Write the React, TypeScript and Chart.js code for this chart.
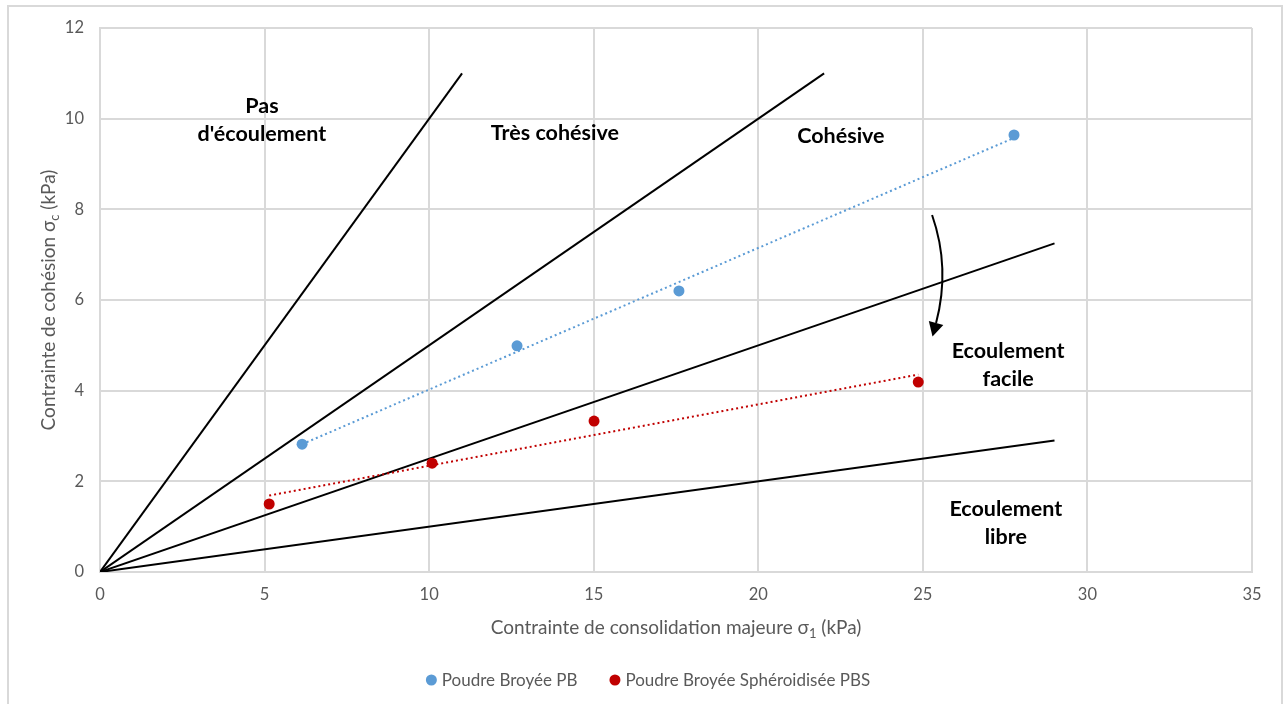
import React, { useEffect, useRef } from "react";
import { Chart, registerables } from "chart.js";

Chart.register(...registerables);

// ---------- data ----------
const pbConsolidation = [6.14, 12.67, 17.59, 27.77];
const pbCohesion = [2.82, 4.99, 6.2, 9.64];
const pbsConsolidation = [5.14, 10.09, 15.01, 24.86];
const pbsCohesion = [1.5, 2.4, 3.33, 4.19];

// flow-function boundary lines (from origin to these end points)
const boundaryEndX = [11, 22, 29, 29];
const boundaryEndY = [11, 11, 7.25, 2.9];

const xTickValues = [0, 5, 10, 15, 20, 25, 30, 35];
const yTickValues = [0, 2, 4, 6, 8, 10, 12];

const seriesNames = ["Poudre Broyée PB", "Poudre Broyée Sphéroidisée PBS"];
const zoneLabels = [
  ["Pas", "d'écoulement"],
  ["Très cohésive"],
  ["Cohésive"],
  ["Ecoulement", "facile"],
  ["Ecoulement", "libre"],
];
// anchor (data coords) of the first line of each zone label
const zoneAnchorX = [4.92, 13.82, 22.51, 27.59, 27.52];
const zoneAnchorY = [10.28, 9.68, 9.62, 4.875, 1.39];

// ---------- styles ----------
const FONT = "Lato, 'Liberation Sans', sans-serif";
const GRID = "#d9d9d9";
const TEXT = "#595959";
const BLUE = "#5b9bd5";
const RED = "#c00000";

function trend(xs: number[], ys: number[]) {
  const n = xs.length;
  const mx = xs.reduce((a, b) => a + b, 0) / n;
  const my = ys.reduce((a, b) => a + b, 0) / n;
  let sxy = 0;
  let sxx = 0;
  for (let i = 0; i < n; i++) {
    sxy += (xs[i] - mx) * (ys[i] - my);
    sxx += (xs[i] - mx) * (xs[i] - mx);
  }
  const slope = sxy / sxx;
  const b = my - slope * mx;
  const x0 = Math.min(...xs);
  const x1 = Math.max(...xs);
  return [
    { x: x0, y: b + slope * x0 },
    { x: x1, y: b + slope * x1 },
  ];
}

type Run = { t: string; sub?: boolean };

function drawRuns(ctx: CanvasRenderingContext2D, runs: Run[], cx: number, cy: number, size: number) {
  const subSize = Math.round(size * 0.68);
  let total = 0;
  for (const r of runs) {
    ctx.font = `${r.sub ? subSize : size}px ${FONT}`;
    total += ctx.measureText(r.t).width;
  }
  let x = cx - total / 2;
  const base = cy + size * 0.35;
  ctx.textAlign = "left";
  ctx.textBaseline = "alphabetic";
  for (const r of runs) {
    ctx.font = `${r.sub ? subSize : size}px ${FONT}`;
    ctx.fillText(r.t, x, r.sub ? base + size * 0.22 : base);
    x += ctx.measureText(r.t).width;
  }
}

const decorPlugin = {
  id: "decor",
  afterDatasetsDraw(chart: any) {
    const ctx: CanvasRenderingContext2D = chart.ctx;
    const xs = chart.scales.x;
    const ys = chart.scales.y;
    ctx.save();
    // zone labels
    ctx.fillStyle = "#000";
    ctx.font = `bold 21.5px ${FONT}`;
    ctx.textAlign = "center";
    ctx.textBaseline = "middle";
    zoneLabels.forEach((lines, i) => {
      const px = xs.getPixelForValue(zoneAnchorX[i]);
      const py = ys.getPixelForValue(zoneAnchorY[i]);
      lines.forEach((l, j) => ctx.fillText(l, px, py + j * 28));
    });
    // curved arrow
    const sx = xs.getPixelForValue(25.28);
    const sy = ys.getPixelForValue(7.875);
    const ex = sx + 4;
    const ey = sy + 108;
    const cx = sx + 18.5;
    const cy = sy + 53;
    ctx.strokeStyle = "#000";
    ctx.lineWidth = 2;
    ctx.beginPath();
    ctx.moveTo(sx, sy);
    ctx.quadraticCurveTo(cx, cy, ex, ey);
    ctx.stroke();
    let dx = ex - cx;
    let dy = ey - cy;
    const len = Math.hypot(dx, dy);
    dx /= len;
    dy /= len;
    const tipX = ex + dx * 14;
    const tipY = ey + dy * 14;
    ctx.fillStyle = "#000";
    ctx.beginPath();
    ctx.moveTo(tipX, tipY);
    ctx.lineTo(ex - dy * 7.5, ey + dx * 7.5);
    ctx.lineTo(ex + dy * 7.5, ey - dx * 7.5);
    ctx.closePath();
    ctx.fill();
    ctx.restore();
  },
  afterDraw(chart: any) {
    const ctx: CanvasRenderingContext2D = chart.ctx;
    const a = chart.chartArea;
    ctx.save();
    ctx.fillStyle = TEXT;
    // x title
    drawRuns(
      ctx,
      [{ t: "Contrainte de consolidation majeure σ" }, { t: "1", sub: true }, { t: " (kPa)" }],
      (a.left + a.right) / 2,
      627,
      19
    );
    // y title
    ctx.save();
    ctx.translate(48, (a.top + a.bottom) / 2);
    ctx.rotate(-Math.PI / 2);
    drawRuns(
      ctx,
      [{ t: "Contrainte de cohésion σ" }, { t: "c", sub: true }, { t: " (kPa)" }],
      0,
      0,
      19
    );
    ctx.restore();
    // legend
    const colors = [BLUE, RED];
    ctx.font = `17px ${FONT}`;
    const r = 5.5;
    const gap = 5;
    const spacing = 32;
    const widths = seriesNames.map((n) => ctx.measureText(n).width + r * 2 + gap);
    const total = widths.reduce((s, w) => s + w, 0) + spacing * (widths.length - 1);
    let x = 648 - total / 2;
    const y = 680;
    ctx.textAlign = "left";
    ctx.textBaseline = "middle";
    seriesNames.forEach((n, i) => {
      ctx.fillStyle = colors[i];
      ctx.beginPath();
      ctx.arc(x + r, y, r, 0, Math.PI * 2);
      ctx.fill();
      ctx.fillStyle = TEXT;
      ctx.fillText(n, x + r * 2 + gap, y + 1);
      x += widths[i] + spacing;
    });
    ctx.restore();
  },
};

export default function App() {
  const ref = useRef<HTMLCanvasElement>(null);
  useEffect(() => {
    const canvas = ref.current!;
    const boundaryDatasets = boundaryEndX.map((ex, i) => ({
      type: "scatter" as const,
      label: "boundary" + i,
      data: [
        { x: 0, y: 0 },
        { x: ex, y: boundaryEndY[i] },
      ],
      showLine: true,
      borderColor: "#000",
      borderWidth: 2,
      pointRadius: 0,
      order: 3,
    }));
    const chart = new Chart(canvas, {
      type: "scatter",
      data: {
        datasets: [
          ...boundaryDatasets,
          {
            label: "trend PB",
            data: trend(pbConsolidation, pbCohesion),
            showLine: true,
            borderColor: BLUE,
            borderWidth: 2,
            borderDash: [2, 3],
            pointRadius: 0,
            order: 2,
          },
          {
            label: "trend PBS",
            data: trend(pbsConsolidation, pbsCohesion),
            showLine: true,
            borderColor: RED,
            borderWidth: 2,
            borderDash: [2, 3],
            pointRadius: 0,
            order: 2,
          },
          {
            label: seriesNames[0],
            data: pbConsolidation.map((x, i) => ({ x, y: pbCohesion[i] })),
            backgroundColor: BLUE,
            borderWidth: 0,
            pointRadius: 5.5,
            order: 1,
          },
          {
            label: seriesNames[1],
            data: pbsConsolidation.map((x, i) => ({ x, y: pbsCohesion[i] })),
            backgroundColor: RED,
            borderWidth: 0,
            pointRadius: 5.5,
            order: 1,
          },
        ],
      },
      options: {
        animation: false,
        responsive: false,
        devicePixelRatio: 1,
        layout: { padding: { left: 0, right: 33, top: 28, bottom: 0 } },
        plugins: { legend: { display: false }, tooltip: { enabled: false } },
        scales: {
          x: {
            type: "linear",
            min: 0,
            max: 35,
            afterBuildTicks: (s: any) => {
              s.ticks = xTickValues.map((v) => ({ value: v }));
            },
            afterFit: (s: any) => {
              s.height = 132;
              s.paddingLeft = 0;
              s.paddingRight = 0;
            },
            ticks: { color: TEXT, font: { family: FONT, size: 16.5 }, padding: 13, maxRotation: 0 },
            grid: { color: GRID, lineWidth: 2, drawTicks: false },
            border: { color: GRID, width: 2 },
          },
          y: {
            type: "linear",
            min: 0,
            max: 12,
            afterBuildTicks: (s: any) => {
              s.ticks = yTickValues.map((v) => ({ value: v }));
            },
            afterFit: (s: any) => {
              s.width = 100;
              s.paddingTop = 0;
              s.paddingBottom = 0;
            },
            ticks: { color: TEXT, font: { family: FONT, size: 16.5 }, padding: 16 },
            grid: { color: GRID, lineWidth: 2, drawTicks: false },
            border: { color: GRID, width: 2 },
          },
        },
      } as any,
      plugins: [decorPlugin],
    });
    return () => chart.destroy();
  }, []);
  return (
    <div
      style={{
        position: "fixed",
        left: 0,
        top: 0,
        width: 1285,
        height: 704,
        overflow: "hidden",
        background: "#fff",
      }}
    >
      <div
        style={{
          position: "absolute",
          left: 7,
          top: 5,
          width: 1276,
          height: 760,
          border: "2px solid " + GRID,
          boxSizing: "border-box",
        }}
      />
      <canvas ref={ref} width={1285} height={704} style={{ position: "absolute", left: 0, top: 0 }} />
    </div>
  );
}
